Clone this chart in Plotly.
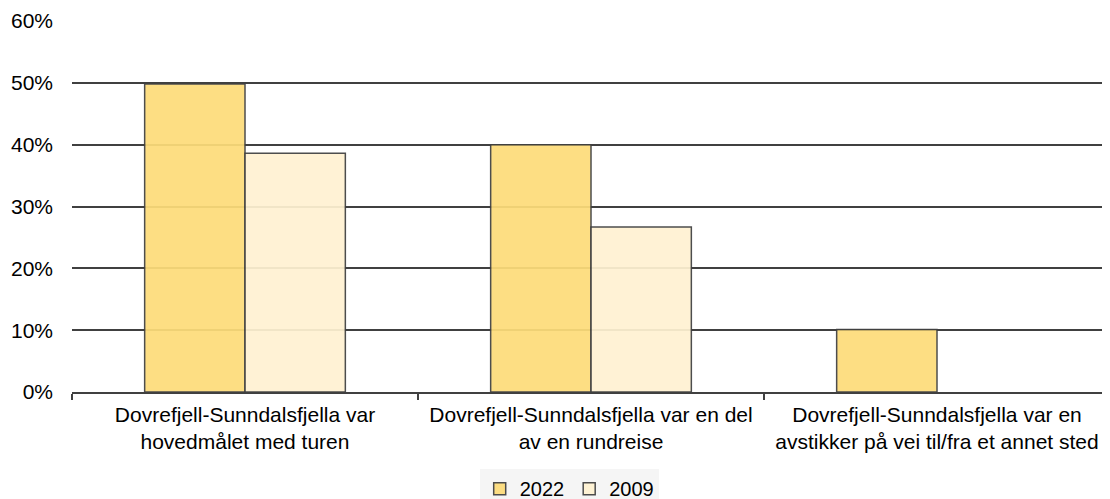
import plotly.graph_objects as go

categories = [
    "Dovrefjell-Sunndalsfjella var<br>hovedmålet med turen",
    "Dovrefjell-Sunndalsfjella var en del<br>av en rundreise",
    "Dovrefjell-Sunndalsfjella var en<br>avstikker på vei til/fra et annet sted",
]
values_2022 = [0.498, 0.40, 0.101]
values_2009 = [0.386, 0.267, None]
y_ticks = [0, 0.1, 0.2, 0.3, 0.4, 0.5, 0.6]
y_tick_labels = ["0%", "10%", "20%", "30%", "40%", "50%", "60%"]

fig = go.Figure()
fig.add_trace(go.Bar(name="2022", x=categories, y=values_2022,
                     marker=dict(color="rgb(253,220,122)", line=dict(color="#404040", width=1.5)),
                     opacity=0.93))
fig.add_trace(go.Bar(name="2009", x=categories, y=values_2009,
                     marker=dict(color="rgb(255,242,210)", line=dict(color="#404040", width=1.5)),
                     opacity=0.93))

# page body has an 8px default margin; margins compensate for it
fig.update_layout(
    width=1110, height=499,
    margin=dict(l=64, r=8, t=13, b=115, autoexpand=False),
    barmode="group", bargap=0.42, bargroupgap=0,
    plot_bgcolor="white", paper_bgcolor="white",
    font=dict(family="Liberation Sans, Arial, sans-serif", size=21, color="black"),
    legend=dict(orientation="h", x=0.479, xanchor="center", y=-0.208, yanchor="top",
                bgcolor="#f5f5f5", font=dict(size=20), itemwidth=30,
                traceorder="normal", tracegroupgap=0),
    showlegend=True,
)
fig.update_xaxes(showline=True, linecolor="#404040", linewidth=1.5,
                 ticks="outside", tickson="boundaries", ticklen=6, tickcolor="#404040",
                 tickwidth=1.5, showgrid=False, automargin=False,
                 ticklabelstandoff=3, tickfont=dict(size=21))
fig.update_yaxes(range=[0, 0.6], tickvals=y_ticks, ticktext=y_tick_labels,
                 showgrid=True, gridcolor="#404040", gridwidth=1.5,
                 showline=False, zeroline=False, ticks="", ticklabelstandoff=18,
                 automargin=False, tickfont=dict(size=21))

fig.write_html("out.html")
